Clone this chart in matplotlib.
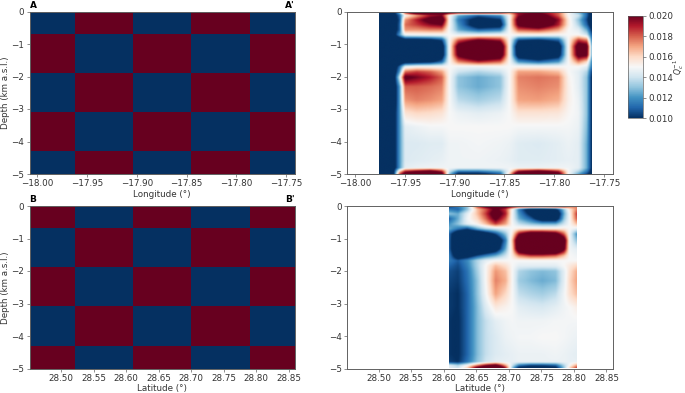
# Attenuation sections along A-A' and B-B': input checkerboard and recovered model

import numpy
import matplotlib
matplotlib.use('Agg')
import matplotlib.pyplot as plt

# Input checkerboard, cell edges
lon_edges=[-18.008,-17.962,-17.904,-17.846,-17.786,-17.741]
lat_edges=[28.451,28.521,28.611,28.700,28.791,28.860]
depth_edges=[0,-0.69,-1.89,-3.09,-4.30,-5]
checker_a=[[0.010,0.020,0.010,0.020,0.010],
           [0.020,0.010,0.020,0.010,0.020],
           [0.010,0.020,0.010,0.020,0.010],
           [0.020,0.010,0.020,0.010,0.020],
           [0.010,0.020,0.010,0.020,0.010]]
checker_b=[[0.020,0.010,0.020,0.010,0.020],
           [0.010,0.020,0.010,0.020,0.010],
           [0.020,0.010,0.020,0.010,0.020],
           [0.010,0.020,0.010,0.020,0.010],
           [0.020,0.010,0.020,0.010,0.020]]

depth_nodes=[0,-0.05,-0.12,-0.26,-0.41,-0.57,-0.72,-0.88,-1.08,-1.34,-1.55,-1.70,
             -1.86,-2.03,-2.32,-2.73,-3.14,-3.56,-4.07,-4.59,-4.82,-4.93,-5.0]

lon_nodes=[-17.9758,-17.9617,-17.9557,-17.95,-17.9383,-17.9249,-17.9132,-17.9055,
           -17.8965,-17.8764,-17.8546,-17.8452,-17.8362,-17.8161,-17.7961,-17.7860,
           -17.7760,-17.7676,-17.7629]
# Units of 1e-4
model_a=[[90,90,130,190,235,240,235,215,205,205,205,185,205,205,185,155,130,110,90],
         [90,90,125,180,225,230,225,205,195,200,195,175,195,200,180,150,130,110,90],
         [90,90,110,150,170,190,195,150,125,110,120,150,195,215,180,150,140,110,90],
         [90,90,105,172,190,210,220,150,115,90,100,150,210,230,195,155,130,105,85],
         [90,90,108,178,185,195,200,150,120,85,90,150,205,225,190,155,135,110,90],
         [90,90,108,172,172,175,175,148,125,110,115,150,180,185,170,150,145,125,100],
         [90,90,120,148,150,150,150,150,145,145,148,150,152,152,150,150,150,140,110],
         [80,80,80,90,90,95,105,150,180,200,190,150,105,100,110,150,185,175,120],
         [70,70,70,70,70,70,85,150,210,240,225,150,80,70,85,150,215,210,130],
         [70,70,70,70,70,70,85,150,205,235,220,150,85,75,90,150,210,205,130],
         [75,75,80,85,90,95,110,150,175,190,180,150,120,110,120,150,175,160,120],
         [80,85,110,145,150,150,150,150,148,148,150,150,150,150,150,150,150,145,115],
         [80,85,120,178,185,180,170,150,140,135,140,150,170,170,165,150,145,135,105],
         [80,85,140,205,198,190,180,150,130,125,130,150,175,177,175,152,145,130,100],
         [80,85,120,180,180,178,175,150,130,125,130,150,173,175,173,153,145,130,100],
         [80,85,120,172,175,173,170,150,137,133,137,150,170,171,168,153,147,130,100],
         [80,90,120,157,160,159,157,150,147,145,147,150,157,157,156,151,148,130,100],
         [80,90,120,145,147,149,149,150,150,150,150,150,149,149,149,149,147,128,100],
         [80,90,120,143,143,144,144,148,148,149,148,147,144,143,145,147,145,125,100],
         [80,90,120,143,144,145,146,148,148,148,147,146,144,144,145,146,145,125,100],
         [80,90,120,145,147,148,148,148,148,148,148,148,147,147,148,148,145,125,100],
         [80,95,160,190,200,210,190,140,115,115,125,150,195,210,190,150,135,115,95],
         [80,95,180,210,230,240,210,130,95,95,110,160,225,240,210,150,125,105,90]]

lat_nodes=[28.6074,28.6208,28.6351,28.6506,28.6634,28.6788,28.6942,28.7045,28.7148,
           28.7328,28.7508,28.7713,28.7842,28.7929,28.8037]
model_b=[[105,110,130,190,210,225,215,205,195,195,190,195,195,185,180],
         [105,115,130,180,200,215,205,195,185,185,180,185,185,175,175],
         [115,110,130,165,180,205,185,150,115,85,85,95,130,155,175],
         [130,125,145,165,185,215,190,148,120,95,75,75,125,150,185],
         [110,125,148,160,178,205,180,148,125,110,85,85,130,150,180],
         [120,130,145,152,165,185,170,150,138,130,125,125,140,150,165],
         [125,115,105,125,135,140,145,150,155,155,155,155,155,150,145],
         [110,80,65,70,85,105,130,155,195,220,220,210,180,148,120],
         [110,70,55,55,60,75,115,165,230,255,255,250,215,148,130],
         [110,70,55,60,70,85,125,160,225,250,250,245,205,148,145],
         [115,85,90,105,115,125,140,155,175,185,185,180,165,150,148],
         [115,108,118,135,145,150,150,150,150,150,150,150,150,150,150],
         [110,105,116,135,150,165,158,150,145,145,145,145,150,155,160],
         [106,103,113,133,150,172,165,150,135,130,128,130,145,158,168],
         [104,102,112,130,150,175,168,150,132,128,125,128,145,160,170],
         [102,100,110,130,148,170,160,150,138,135,133,137,148,158,165],
         [102,100,110,128,143,155,152,150,145,143,142,145,148,150,153],
         [101,99,110,128,138,145,148,149,148,148,148,149,149,149,149],
         [101,99,110,128,138,143,147,148,149,149,150,150,149,148,147],
         [101,99,110,128,138,143,145,146,147,147,147,148,147,146,145],
         [103,100,113,130,140,145,146,146,147,147,147,147,147,146,146],
         [145,135,150,175,195,210,170,140,115,105,105,110,135,150,170],
         [145,140,160,205,225,245,190,130,95,85,85,95,130,160,185]]

lon_ticks=[-18.00,-17.95,-17.90,-17.85,-17.80,-17.75]
lat_ticks=[28.50,28.55,28.60,28.65,28.70,28.75,28.80,28.85]
depth_ticks=[0,-1,-2,-3,-4,-5]
cbar_ticks=[0.010,0.012,0.014,0.016,0.018,0.020]

W,H=685.0,393.0
cmap='RdBu_r'
vmin,vmax=0.010,0.020
font=6.3
spine=(0.38,0.38,0.38)
ink=(0.2,0.2,0.2)

def panel_axes(x0,x1,y0,y1):
    return fig.add_axes([x0/W,1-y1/H,(x1-x0)/W,(y1-y0)/H])

def style(ax,xticks,xlim,xlabel,ylabel=None):
    ax.set_xlim(xlim)
    ax.set_ylim(-5,0)
    ax.set_xticks(xticks)
    ax.set_xticklabels(['%.2f' % t if t>0 else '\u2212%.2f' % abs(t) for t in xticks])
    ax.set_yticks(depth_ticks)
    ax.tick_params(labelsize=font,length=2,width=0.5,pad=1.8,color=spine,labelcolor=ink)
    ax.set_xlabel(xlabel,fontsize=font,labelpad=1,color=ink)
    if ylabel:
        ax.set_ylabel(ylabel,fontsize=font,labelpad=1,color=ink)
    for s in ax.spines.values():
        s.set_linewidth(0.7)
        s.set_color(spine)

def section(ax,x_nodes,values):
    # Fill the read-off table out to an even grid so imshow can show it
    x_nodes=numpy.array(x_nodes)
    z_nodes=numpy.array(depth_nodes)[::-1]
    table=numpy.array(values,dtype=float)[::-1]/1.0e4
    xx=numpy.linspace(x_nodes[0],x_nodes[-1],220)
    zz=numpy.linspace(-5,0,220)
    by_x=numpy.array([numpy.interp(xx,x_nodes,row) for row in table])
    grid=numpy.array([numpy.interp(zz,z_nodes,col) for col in by_x.T]).T
    return ax.imshow(grid,origin='lower',aspect='auto',cmap=cmap,vmin=vmin,vmax=vmax,
                     extent=[x_nodes[0],x_nodes[-1],-5,0],interpolation='bicubic')

fig=plt.figure(figsize=(6.85,3.93),dpi=100,facecolor='white')

# Input checkerboards
ax_a=panel_axes(29.5,295,11.5,174)
ax_a.pcolormesh(lon_edges,depth_edges,checker_a,cmap=cmap,vmin=vmin,vmax=vmax)
style(ax_a,lon_ticks,(lon_edges[0],lon_edges[-1]),'Longitude (\u00b0)','Depth (km a.s.l.)')

ax_b=panel_axes(29.5,295,206,368.5)
ax_b.pcolormesh(lat_edges,depth_edges,checker_b,cmap=cmap,vmin=vmin,vmax=vmax)
style(ax_b,lat_ticks,(lat_edges[0],lat_edges[-1]),'Latitude (\u00b0)','Depth (km a.s.l.)')

# Recovered models
ax_c=panel_axes(347,613,11.5,174)
im=section(ax_c,lon_nodes,model_a)
style(ax_c,lon_ticks,(lon_edges[0],lon_edges[-1]),'Longitude (\u00b0)')

ax_d=panel_axes(347,613,206,368.5)
section(ax_d,lat_nodes,model_b)
style(ax_d,lat_ticks,(lat_edges[0],lat_edges[-1]),'Latitude (\u00b0)')

# Section end labels
for ax,left,right in ((ax_a,'A',"A'"),(ax_b,'B',"B'")):
    ax.text(0,1.012,left,transform=ax.transAxes,ha='left',va='bottom',fontsize=6.5,fontweight='bold')
    ax.text(1,1.012,right,transform=ax.transAxes,ha='right',va='bottom',fontsize=6.5,fontweight='bold')

# Colour bar
cax=panel_axes(628,642.7,15.7,118)
cb=fig.colorbar(im,cax=cax)
cb.set_ticks(cbar_ticks)
cb.set_ticklabels(['%.3f' % t for t in cbar_ticks])
cb.ax.tick_params(labelsize=font,length=2,width=0.5,pad=1.8,color=spine,labelcolor=ink)
cb.outline.set_linewidth(0.5)
cb.outline.set_edgecolor(spine)
cb.set_label('$Q_c^{-1}$',fontsize=5.5,labelpad=-1,color=ink)

fig.savefig('out.png',dpi=100)
